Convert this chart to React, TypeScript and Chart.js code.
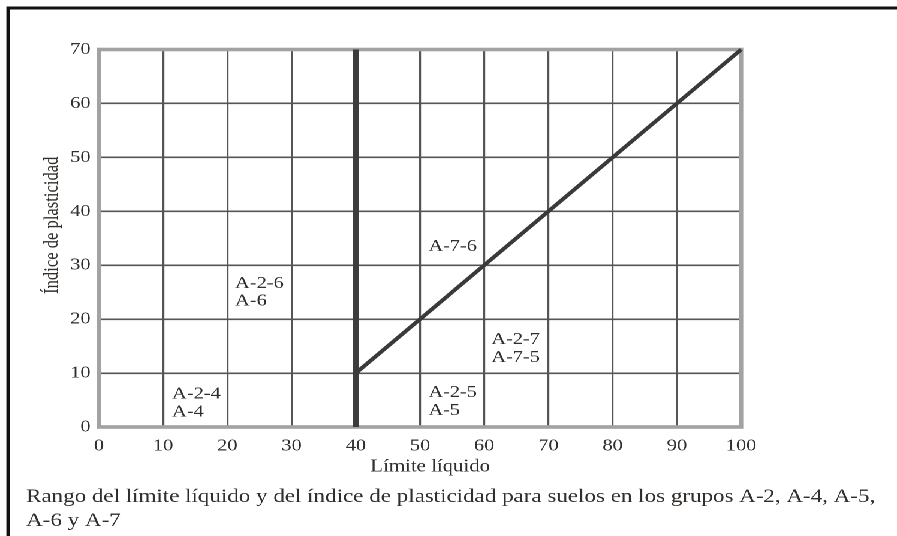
import React, { useEffect, useRef } from "react";
import { Chart, registerables } from "chart.js";

Chart.register(...registerables);

// ---- data ----
const xTicks = [0, 10, 20, 30, 40, 50, 60, 70, 80, 90, 100];
const yTicks = [0, 10, 20, 30, 40, 50, 60, 70];
const xRange = [0, 100];
const yRange = [0, 70];
const liquidLimitBoundary = [
  { x: 40, y: 0 },
  { x: 40, y: 70 },
];
const aLine = [
  { x: 40, y: 10 },
  { x: 100, y: 70 },
];
const groupLabelX = [11.4, 21.2, 51.3, 61.1, 51.3];
const groupLabelY = [6.1, 26.6, 33.5, 16.2, 6.35];
const groupLabelText = [
  ["A-2-4", "A-4"],
  ["A-2-6", "A-6"],
  ["A-7-6"],
  ["A-2-7", "A-7-5"],
  ["A-2-5", "A-5"],
];
const xTitle = "Límite líquido";
const yTitle = "Índice de plasticidad";
const captionLines = [
  "Rango del límite líquido y del índice de plasticidad para suelos en los grupos A-2, A-4, A-5,",
  "A-6 y A-7",
];

// ---- layout (unstretched space; the figure is stretched horizontally) ----
const W = 748;
const H = 536;
const STRETCH = 897 / W;
const SERIF = '"Liberation Serif", "Times New Roman", serif';
const TEXT = "#322e2b";

const overlayPlugin = {
  id: "overlay",
  beforeDatasetsDraw(chart: any) {
    const { ctx, chartArea } = chart;
    ctx.save();
    ctx.strokeStyle = "#a2a2a2";
    ctx.lineWidth = 3.6;
    ctx.strokeRect(
      chartArea.left,
      chartArea.top,
      chartArea.right - chartArea.left,
      chartArea.bottom - chartArea.top
    );
    ctx.restore();
  },
  afterDraw(chart: any) {
    const { ctx, chartArea } = chart;
    const xs = chart.scales.x;
    const ys = chart.scales.y;
    ctx.save();
    // outer box (left and top edges visible)
    ctx.strokeStyle = "#111";
    ctx.lineWidth = 3;
    ctx.beginPath();
    ctx.moveTo(6.8, H);
    ctx.lineTo(6.8, 8);
    ctx.lineTo(W, 8);
    ctx.stroke();

    // group labels
    ctx.fillStyle = TEXT;
    ctx.font = `17px ${SERIF}`;
    ctx.textAlign = "left";
    ctx.textBaseline = "middle";
    groupLabelText.forEach((lines, i) => {
      const px = xs.getPixelForValue(groupLabelX[i]);
      const py = ys.getPixelForValue(groupLabelY[i]);
      lines.forEach((t, j) => ctx.fillText(t, px, py + j * 17.7));
    });

    // x title
    ctx.font = `17.4px ${SERIF}`;
    ctx.textAlign = "center";
    ctx.fillText(xTitle, (chartArea.left + chartArea.right) / 2 + 8.5, chartArea.bottom + 40);

    // y title
    ctx.save();
    ctx.translate(43.4, (chartArea.top + chartArea.bottom) / 2 - 13);
    ctx.rotate(-Math.PI / 2);
    ctx.font = `16.6px ${SERIF}`;
    ctx.textAlign = "center";
    ctx.textBaseline = "middle";
    ctx.fillText(yTitle, 0, 0);
    ctx.restore();

    // caption
    ctx.font = `19.2px ${SERIF}`;
    ctx.textAlign = "left";
    ctx.textBaseline = "middle";
    captionLines.forEach((t, i) => ctx.fillText(t, 21.7, 497 + i * 24));
    ctx.restore();
  },
};

export default function App() {
  const ref = useRef<HTMLCanvasElement>(null);
  useEffect(() => {
    const chart = new Chart(ref.current as HTMLCanvasElement, {
      type: "scatter",
      data: {
        datasets: [
          {
            data: liquidLimitBoundary,
            showLine: true,
            borderColor: "#3c3c3c",
            borderWidth: 5,
            borderCapStyle: "butt",
            pointRadius: 0,
            clip: 4,
          } as any,
          {
            data: aLine,
            showLine: true,
            borderColor: "#3a3a3a",
            borderWidth: 3.6,
            pointRadius: 0,
            clip: 4,
          } as any,
        ],
      },
      options: {
        animation: false,
        responsive: false,
        devicePixelRatio: 2,
        layout: { padding: { left: 0, top: 49.5, right: 130, bottom: 69 } },
        plugins: { legend: { display: false }, tooltip: { enabled: false } },
        scales: {
          x: {
            type: "linear",
            min: xRange[0],
            max: xRange[1],
            afterBuildTicks: (s: any) => {
              s.ticks = xTicks.map((v) => ({ value: v }));
            },
            afterFit: (s: any) => {
              s.height = 40;
            },
            grid: { color: "#555555", lineWidth: 1.6, drawTicks: false },
            border: { display: false },
            ticks: {
              padding: 9,
              color: TEXT,
              autoSkip: false,
              maxRotation: 0,
              font: { family: SERIF, size: 17 },
            },
          },
          y: {
            type: "linear",
            min: yRange[0],
            max: yRange[1],
            afterBuildTicks: (s: any) => {
              s.ticks = yTicks.map((v) => ({ value: v }));
            },
            afterFit: (s: any) => {
              s.width = 82.5;
            },
            grid: { color: "#555555", lineWidth: 1.6, drawTicks: false },
            border: { display: false },
            ticks: {
              padding: 7,
              color: TEXT,
              font: { family: SERIF, size: 17 },
            },
          },
        },
      },
      plugins: [overlayPlugin],
    } as any);
    return () => chart.destroy();
  }, []);

  return (
    <div
      style={{
        position: "fixed",
        left: 0,
        top: 0,
        width: W,
        height: H,
        background: "#fff",
        transform: `scaleX(${STRETCH})`,
        transformOrigin: "0 0",
      }}
    >
      <canvas ref={ref} width={W} height={H} />
    </div>
  );
}
